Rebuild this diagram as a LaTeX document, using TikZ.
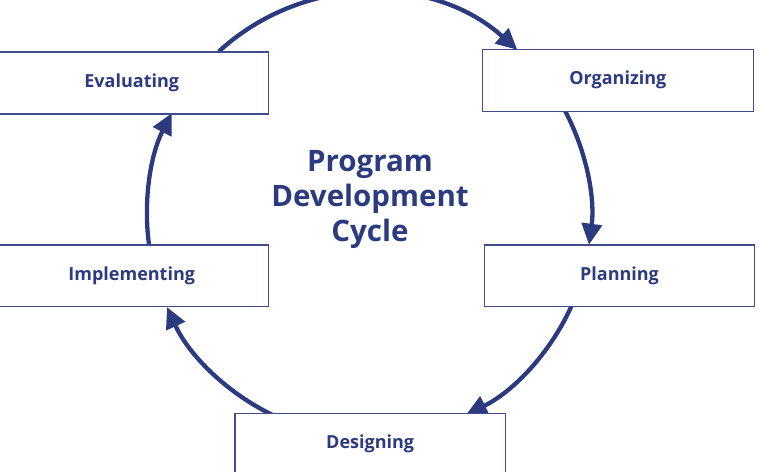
\documentclass[tikz,border=0pt]{standalone}
\usepackage{fontspec}
\setmainfont{Open Sans}
\usetikzlibrary{arrows.meta,calc}
\definecolor{navy}{RGB}{44,58,128}
\definecolor{boxline}{RGB}{64,76,140}
\tikzset{
  stagebox/.style={draw=boxline, line width=1.5pt, fill=white, inner sep=0pt,
    text=navy, font=\fontsize{18}{21}\selectfont\bfseries},
  cyclearrow/.style={draw=navy, line width=4.3pt,
    -{Triangle[length=21pt,width=20pt]}}
}
\begin{document}
\begin{tikzpicture}[x=1pt,y=1pt]
\useasboundingbox (0,0) rectangle (759,471);
\coordinate (c) at (369,256);
\def\R{222}
% arcs
\coordinate (a1) at ($(c)+(132.6:\R)$);
\coordinate (a2) at ($(c)+(27.9:\R)$);
\coordinate (a3) at ($(c)+(-24.3:\R)$);
\coordinate (a4) at ($(c)+(-115.2:\R)$);
\coordinate (a5) at ($(c)+(187.8:\R)$);
\draw[cyclearrow] (a1) arc[start angle=132.6, end angle=48.1, radius=\R];
\draw[cyclearrow] (a2) arc[start angle=27.9, end angle=-7.7, radius=\R];
\draw[cyclearrow] (a3) arc[start angle=-24.3, end angle=-64.1, radius=\R];
\draw[cyclearrow] (a4) arc[start angle=-115.2, end angle=-155.5, radius=\R];
\draw[cyclearrow] (a5) arc[start angle=187.8, end angle=152.7, radius=\R];
% boxes
\node[stagebox, minimum width=273.5pt, minimum height=62pt] (eval) at (131.75,388) {Evaluating};
\node[stagebox, minimum width=271pt, minimum height=62pt] (org) at (617.8,390.7) {Organizing};
\node[stagebox, minimum width=273.5pt, minimum height=61.7pt] (impl) at (131.75,195.15) {Implementing};
\node[stagebox, minimum width=270.4pt, minimum height=61.7pt] (plan) at (619.5,195.15) {Planning};
\node[stagebox, minimum width=270.3pt, minimum height=62pt] (design) at (370.15,26.7) {Designing};
% title
\node[text=navy, align=center, font=\fontsize{29.5}{35}\selectfont\bfseries] (title) at (370,271)
  {Program\\Development\\Cycle};
\end{tikzpicture}
\end{document}
